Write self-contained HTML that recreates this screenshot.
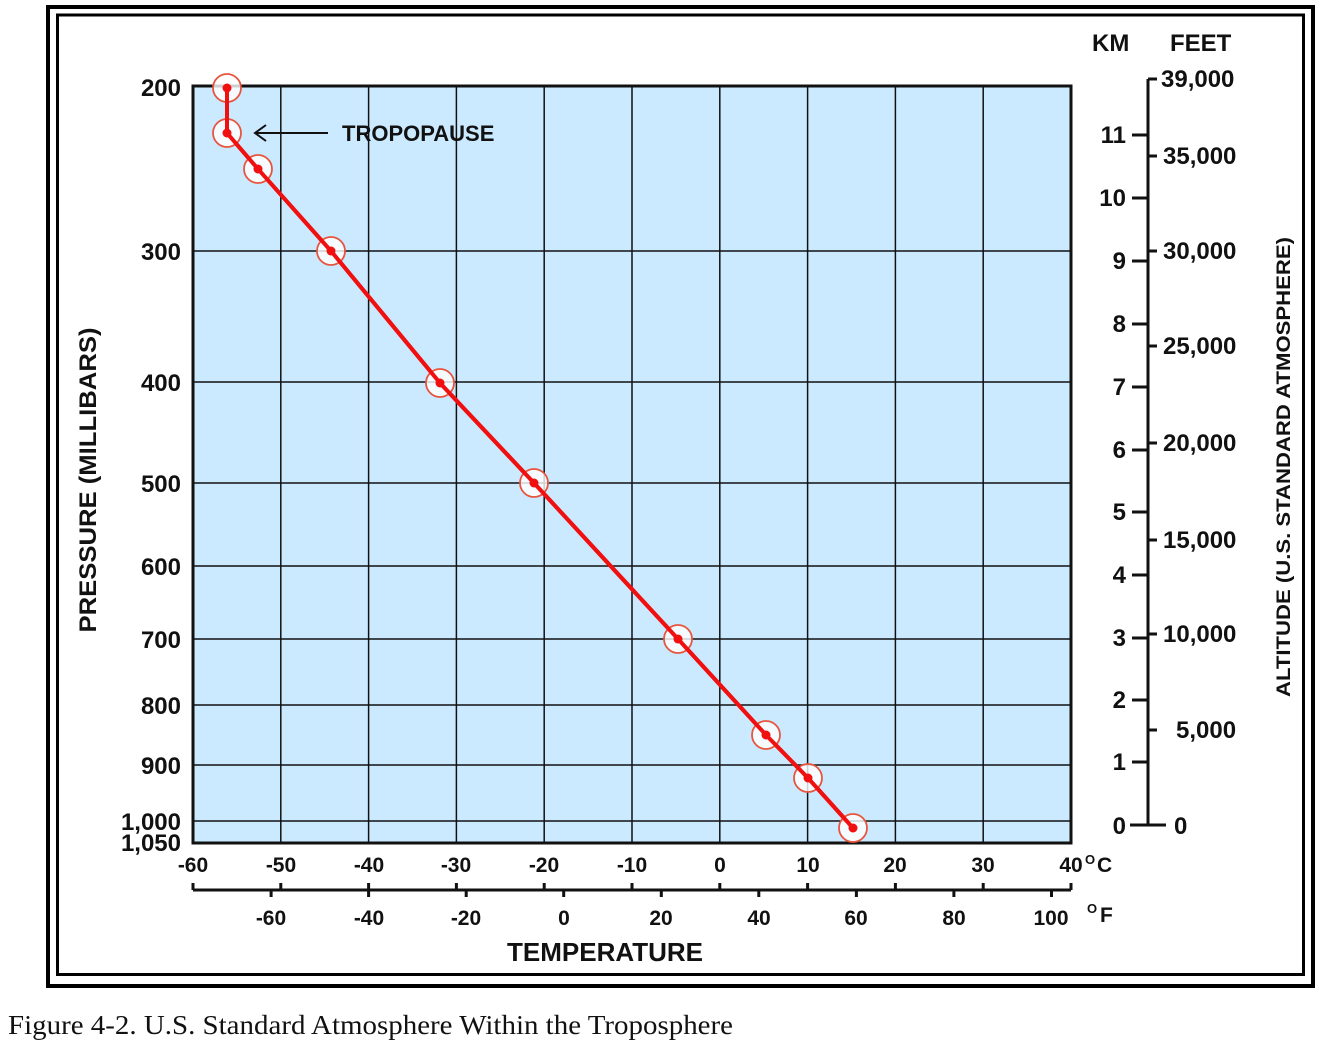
<!DOCTYPE html>
<html><head><meta charset="utf-8"><style>
html,body{margin:0;padding:0;background:#fff;}
svg{display:block;}
text{font-family:"Liberation Sans",Arial,sans-serif;font-weight:bold;fill:#111;}
</style></head><body>
<svg width="1322" height="1046" viewBox="0 0 1322 1046" xmlns="http://www.w3.org/2000/svg">
<rect x="48" y="7" width="1265" height="979" fill="none" stroke="#000" stroke-width="4"/>
<rect x="57.5" y="15" width="1246" height="959.5" fill="none" stroke="#000" stroke-width="3"/>
<rect x="193" y="86" width="878" height="757" fill="#cceaff"/>
<g stroke="#111" stroke-width="1.5">
<line x1="280.8" y1="86" x2="280.8" y2="843"/><line x1="368.6" y1="86" x2="368.6" y2="843"/>
<line x1="456.4" y1="86" x2="456.4" y2="843"/><line x1="544.2" y1="86" x2="544.2" y2="843"/>
<line x1="632" y1="86" x2="632" y2="843"/><line x1="719.8" y1="86" x2="719.8" y2="843"/>
<line x1="807.6" y1="86" x2="807.6" y2="843"/><line x1="895.4" y1="86" x2="895.4" y2="843"/>
<line x1="983.2" y1="86" x2="983.2" y2="843"/>
<line x1="193" y1="251" x2="1071" y2="251"/><line x1="193" y1="382" x2="1071" y2="382"/>
<line x1="193" y1="483" x2="1071" y2="483"/><line x1="193" y1="566" x2="1071" y2="566"/>
<line x1="193" y1="639" x2="1071" y2="639"/><line x1="193" y1="705" x2="1071" y2="705"/>
<line x1="193" y1="765" x2="1071" y2="765"/><line x1="193" y1="821" x2="1071" y2="821"/>
</g>
<rect x="193" y="86" width="878" height="757" fill="none" stroke="#111" stroke-width="3"/>
<g font-size="24" text-anchor="end">
<text x="181" y="96">200</text><text x="181" y="260">300</text><text x="181" y="391">400</text>
<text x="181" y="492">500</text><text x="181" y="575">600</text><text x="181" y="648">700</text>
<text x="181" y="714">800</text><text x="181" y="774">900</text>
<text x="181" y="830">1,000</text><text x="181" y="851">1,050</text>
</g>
<text transform="translate(96,480) rotate(-90)" font-size="24" text-anchor="middle" textLength="305" lengthAdjust="spacingAndGlyphs">PRESSURE (MILLIBARS)</text>
<g stroke="#111" stroke-width="3" fill="none">
<line x1="193" y1="890" x2="1071" y2="890"/>
<path d="M193 883V890M280.8 883V890M368.6 883V890M456.4 883V890M544.2 883V890M632 883V890M719.8 883V890M807.6 883V890M895.4 883V890M983.2 883V890M1071 883V890"/>
<path d="M271.1 890V897M368.6 890V897M466.2 890V897M563.7 890V897M661.3 890V897M758.8 890V897M856.4 890V897M953.9 890V897M1051.5 890V897"/>
</g>
<g font-size="21" text-anchor="middle">
<text x="193" y="872">-60</text><text x="281" y="872">-50</text><text x="369" y="872">-40</text>
<text x="456" y="872">-30</text><text x="544" y="872">-20</text><text x="632" y="872">-10</text>
<text x="720" y="872">0</text><text x="808" y="872">10</text><text x="895" y="872">20</text>
<text x="983" y="872">30</text><text x="1071" y="872">40</text>
<text x="271" y="925">-60</text><text x="369" y="925">-40</text><text x="466" y="925">-20</text>
<text x="564" y="925">0</text><text x="661" y="925">20</text><text x="759" y="925">40</text>
<text x="856" y="925">60</text><text x="954" y="925">80</text><text x="1051" y="925">100</text>
</g>
<text x="1097" y="872" font-size="21">C</text><text x="1085" y="864" font-size="13">O</text>
<text x="1100" y="922" font-size="21">F</text><text x="1087" y="913" font-size="13">O</text>
<text x="605" y="961" font-size="26" text-anchor="middle">TEMPERATURE</text>
<g stroke="#111" stroke-width="3" fill="none">
<line x1="1148" y1="79" x2="1148" y2="826"/>
<path d="M1148 79H1157"/>
<path d="M1132 135H1148M1132 198H1148M1132 261H1148M1132 324H1148M1132 387H1148M1132 450H1148M1132 512H1148M1132 575H1148M1132 638H1148M1132 700H1148M1132 762H1148M1130 825H1166"/>
<path d="M1148 156H1157M1148 251H1157M1148 346H1157M1148 443H1157M1148 540H1157M1148 634H1157M1148 730H1157"/>
</g>
<g font-size="24" text-anchor="end">
<text x="1126" y="143">11</text><text x="1126" y="206">10</text><text x="1126" y="269">9</text>
<text x="1126" y="332">8</text><text x="1126" y="395">7</text><text x="1126" y="458">6</text>
<text x="1126" y="520">5</text><text x="1126" y="583">4</text><text x="1126" y="646">3</text>
<text x="1126" y="708">2</text><text x="1126" y="770">1</text><text x="1126" y="834">0</text>
</g>
<g font-size="24">
<text x="1161" y="87">39,000</text><text x="1163" y="164">35,000</text><text x="1163" y="259">30,000</text>
<text x="1163" y="354">25,000</text><text x="1163" y="451">20,000</text><text x="1163" y="548">15,000</text>
<text x="1163" y="642">10,000</text><text x="1176" y="738">5,000</text><text x="1174" y="834">0</text>
</g>
<text x="1092" y="51" font-size="24">KM</text><text x="1170" y="51" font-size="24">FEET</text>
<text transform="translate(1290,467) rotate(-90)" font-size="19" text-anchor="middle" textLength="460" lengthAdjust="spacingAndGlyphs">ALTITUDE (U.S. STANDARD ATMOSPHERE)</text>
<line x1="256" y1="133" x2="328" y2="133" stroke="#111" stroke-width="2"/>
<path d="M266 125L255 133L266 141" fill="none" stroke="#111" stroke-width="2"/>
<text x="342" y="141" font-size="22">TROPOPAUSE</text>
<polyline points="227,88 227,133 258,169 331,251 440,383 534,483 678,639 766,735 808,778 853,828" fill="none" stroke="#f01010" stroke-width="4"/>
<g fill="rgba(255,255,255,0.8)" stroke="#e8553f" stroke-width="1.8">
<circle cx="227" cy="88" r="14"/><circle cx="227" cy="133" r="14"/><circle cx="258" cy="169" r="14"/>
<circle cx="331" cy="251" r="14"/><circle cx="440" cy="383" r="14"/><circle cx="534" cy="483" r="14"/>
<circle cx="678" cy="639" r="14"/><circle cx="766" cy="735" r="14"/><circle cx="808" cy="778" r="14"/>
<circle cx="853" cy="828" r="14"/>
</g>
<polyline points="227,88 227,133 258,169 331,251 440,383 534,483 678,639 766,735 808,778 853,828" fill="none" stroke="#f01010" stroke-width="4"/>
<g fill="#f01010">
<circle cx="227" cy="88" r="4.5"/><circle cx="227" cy="133" r="4.5"/><circle cx="258" cy="169" r="4.5"/>
<circle cx="331" cy="251" r="4.5"/><circle cx="440" cy="383" r="4.5"/><circle cx="534" cy="483" r="4.5"/>
<circle cx="678" cy="639" r="4.5"/><circle cx="766" cy="735" r="4.5"/><circle cx="808" cy="778" r="4.5"/>
<circle cx="853" cy="828" r="4.5"/>
</g>
<text x="8" y="1034" font-size="27" textLength="725" lengthAdjust="spacingAndGlyphs" style="font-family:'Liberation Serif',serif;font-weight:normal">Figure 4-2. U.S. Standard Atmosphere Within the Troposphere</text>
</svg>
</body></html>
